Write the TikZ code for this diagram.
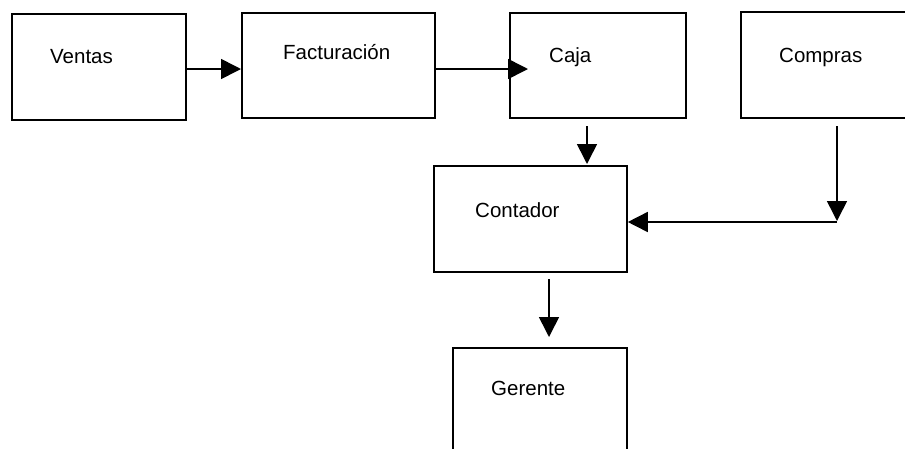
\documentclass[tikz,border=0pt]{standalone}
\usepackage{fontspec}
\setmainfont{Liberation Sans}
\usetikzlibrary{arrows.meta,calc}
\begin{document}
\begin{tikzpicture}[x=1pt,y=-1pt,
  box/.style={draw=black,line width=1.8pt,rectangle,inner sep=0pt,anchor=north west},
  lbl/.style={inner sep=0pt,anchor=base west,font=\fontsize{20.5}{24}\selectfont},
  conn/.style={line width=1.6pt,-{Triangle[length=20pt,width=20pt]}}]
\useasboundingbox (0,0) rectangle (905,448);
\clip (0,0) rectangle (905,448);
% boxes
\node[box,minimum width=174pt,minimum height=106pt] (ventas) at (11,13) {};
\node[box,minimum width=193pt,minimum height=105pt] (fact) at (241,12) {};
\node[box,minimum width=176pt,minimum height=105pt] (caja) at (509,12) {};
\node[box,minimum width=180pt,minimum height=106pt] (compras) at (740,11) {};
\node[box,minimum width=193pt,minimum height=106pt] (contador) at (433,165) {};
\node[box,minimum width=174pt,minimum height=120pt] (gerente) at (452,347) {};
% labels
\node[lbl] (ventasT) at (50,63) {Ventas};
\node[lbl] (factT) at (283,59) {Facturación};
\node[lbl] (cajaT) at (549,62) {Caja};
\node[lbl] (comprasT) at (779,62) {Compras};
\node[lbl] (contadorT) at (475,217) {Contador};
\node[lbl] (gerenteT) at (491,395) {Gerente};
% connectors
\coordinate (r1) at (0,69);
\draw[conn] (ventas.east |- r1) -- (fact.west |- r1);
\draw[conn] (fact.east |- r1) -- ($(caja.west |- r1)+(19,0)$);
\coordinate (c1) at (587,126);
\draw[conn] (c1) -- ($(c1 |- contador.north)+(0,-1)$);
\coordinate (k1) at (837,126);
\coordinate (k2) at (837,222);
\draw[conn] (k1) -- ($(k2)+(0,-1)$);
\draw[conn] (k2) -- (k2 -| contador.east);
\coordinate (g1) at (549,279);
\draw[conn] (g1) -- ($(g1 |- gerente.north)+(0,-10)$);
\end{tikzpicture}
\end{document}
